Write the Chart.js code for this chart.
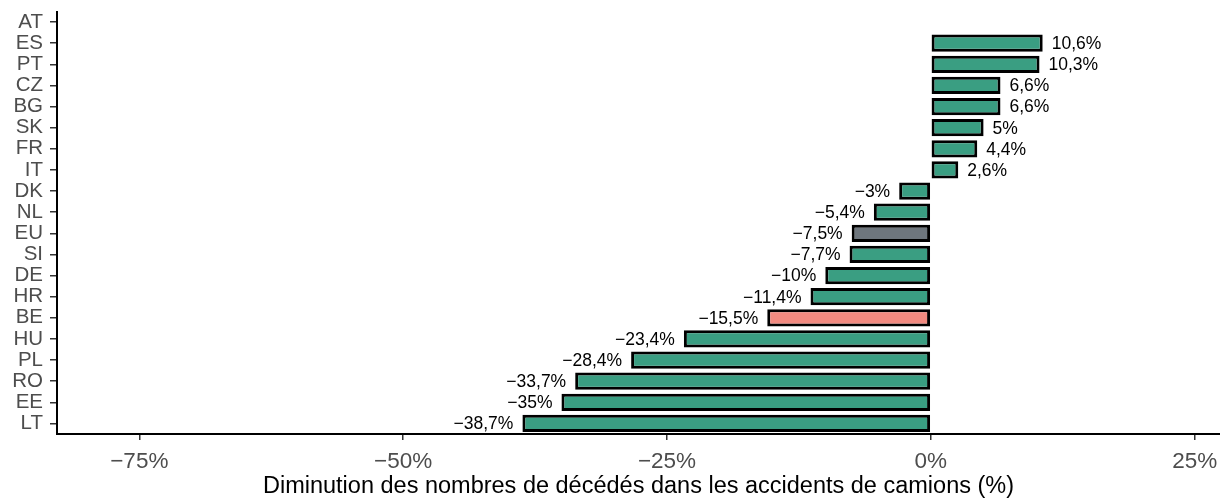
<!DOCTYPE html>
<html>
<head>
<meta charset="utf-8">
<script src="https://cdn.jsdelivr.net/npm/chart.js@4.4.1/dist/chart.umd.min.js"></script>
<style>
  html, body { margin: 0; padding: 0; background: #fff; }
  #wrap { width: 1220px; height: 498px; }
</style>
</head>
<body>
<div id="wrap"><canvas id="myChart" width="1220" height="498"></canvas></div>
<script>
// pays, du haut vers le bas
var pays = ['AT', 'ES', 'PT', 'CZ', 'BG', 'SK', 'FR', 'IT', 'DK', 'NL',
  'EU', 'SI', 'DE', 'HR', 'BE', 'HU', 'PL', 'RO', 'EE', 'LT'];
// variation en %, AT sans valeur
var variation = [null, 10.6, 10.3, 6.6, 6.6, 5, 4.4, 2.6, -3, -5.4,
  -7.5, -7.7, -10, -11.4, -15.5, -23.4, -28.4, -33.7, -35, -38.7];
var graduations = [-75, -50, -25, 0, 25];

var police = '"Liberation Sans", Arial, sans-serif';
var vert = '#3a9e82';
var couleurs = pays.map(function (p) {
  if (p === 'EU') return '#6e767d';
  if (p === 'BE') return '#f28a80';
  return vert;
});

function fmt(v) {
  var s = String(Math.abs(v)).replace('.', ',') + '%';
  return (v < 0 ? '\u2212' : '') + s;
}

// étiquettes de valeur au bout des barres
var etiquettes = {
  id: 'etiquettes',
  afterDatasetsDraw: function (chart) {
    var ctx = chart.ctx;
    var meta = chart.getDatasetMeta(0);
    ctx.save();
    ctx.font = '17.5px ' + police;
    ctx.fillStyle = '#000';
    ctx.textBaseline = 'middle';
    meta.data.forEach(function (bar, i) {
      var v = variation[i];
      if (v === null) return;
      if (v >= 0) {
        ctx.textAlign = 'left';
        ctx.fillText(fmt(v), bar.x + 9, bar.y + 1);
      } else {
        ctx.textAlign = 'right';
        ctx.fillText(fmt(v), bar.x - 9, bar.y + 1);
      }
    });
    ctx.restore();
  }
};

var ctx = document.getElementById('myChart').getContext('2d');
var myChart = new Chart(ctx, {
  type: 'bar',
  data: {
    labels: pays,
    datasets: [{
      data: variation,
      backgroundColor: couleurs,
      borderColor: '#000',
      borderWidth: 3,
      borderSkipped: false,
      categoryPercentage: 1,
      barPercentage: 0.82
    }]
  },
  options: {
    indexAxis: 'y',
    responsive: false,
    animation: false,
    layout: { padding: { top: 11.5, right: 0, left: 0, bottom: 0 } },
    plugins: { legend: { display: false }, tooltip: { enabled: false } },
    scales: {
      x: {
        min: -82.8,
        max: 27.4,
        afterBuildTicks: function (axis) {
          axis.ticks = graduations.map(function (v) { return { value: v }; });
        },
        afterFit: function (axis) {
          axis.height = 64;
          axis.paddingLeft = 0;
          axis.paddingRight = 0;
        },
        border: { display: true, color: '#000', width: 2 },
        grid: { drawOnChartArea: false, drawTicks: true, tickLength: 6, color: '#333', lineWidth: 1.5 },
        ticks: {
          color: '#4d4d4d',
          font: { family: police, size: 22.5 },
          padding: 8,
          maxRotation: 0,
          callback: function (v) { return fmt(v); }
        },
        title: {
          display: true,
          text: 'Diminution des nombres de décédés dans les accidents de camions (%)',
          color: '#000',
          font: { family: police, size: 23.5, lineHeight: 1 },
          padding: { top: 0, bottom: 0 }
        }
      },
      y: {
        afterFit: function (axis) {
          axis.width = 57;
          axis.paddingTop = 0;
          axis.paddingBottom = 0;
        },
        border: { display: true, color: '#000', width: 2 },
        grid: { drawOnChartArea: false, drawTicks: true, tickLength: 7, color: '#333', lineWidth: 1.5, offset: false },
        ticks: {
          color: '#4d4d4d',
          font: { family: police, size: 20.5 },
          padding: 7,
          autoSkip: false
        }
      }
    }
  },
  plugins: [etiquettes]
});
</script>
</body>
</html>
